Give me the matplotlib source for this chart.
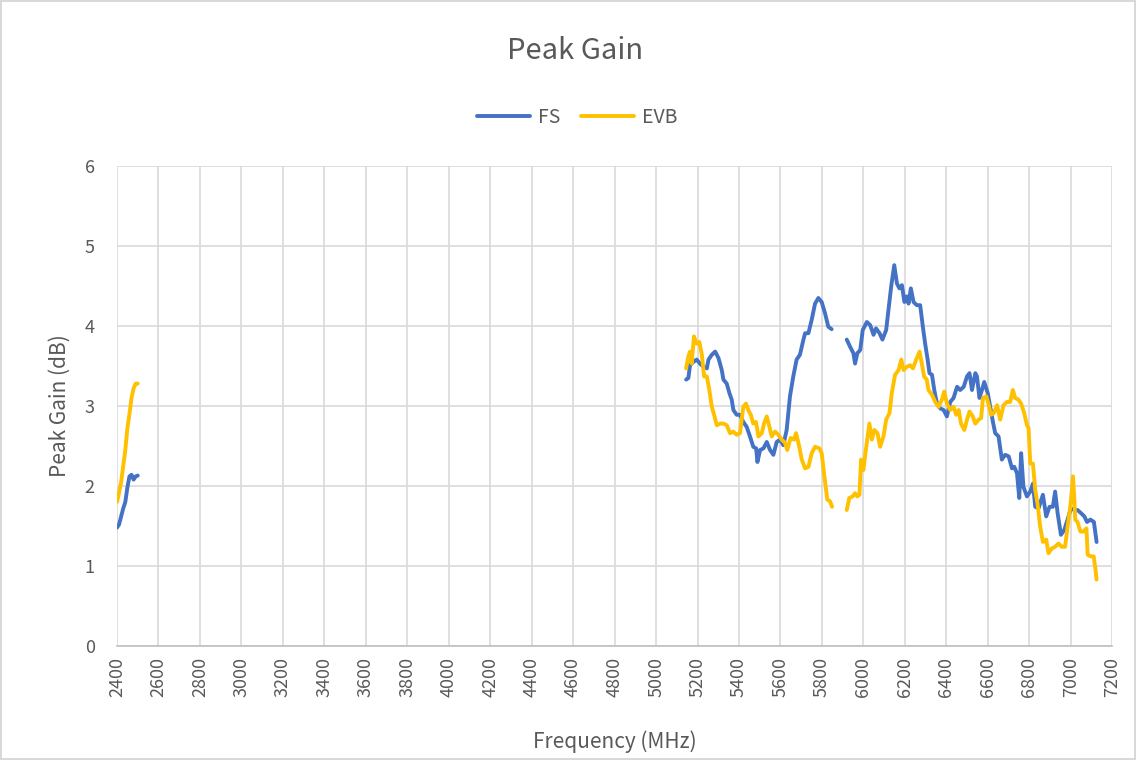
import numpy as np
import matplotlib.pyplot as plt

plt.rcParams['font.family'] = ['Noto Sans CJK SC', 'DejaVu Sans']

nan = np.nan

# FS series (MHz, dB); NaN marks gaps in the sweep
fs_freq = [2400, 2410, 2420, 2430, 2440, 2450, 2460, 2470, 2480, 2490, 2500, 2510,
           5145, 5156, 5164, 5180, 5196, 5212, 5228, 5245, 5253, 5269, 5285, 5301,
           5317, 5325, 5341, 5354, 5365, 5373, 5389, 5405, 5421, 5437, 5453, 5469,
           5483, 5489, 5502, 5518, 5534, 5550, 5566, 5582, 5598, 5614, 5630, 5638,
           5646, 5662, 5678, 5694, 5711, 5719, 5735, 5751, 5767, 5783, 5799, 5815,
           5831, 5847, 5880,
           5920, 5936, 5952, 5960, 5971, 5985, 5997, 6017, 6033, 6049, 6061, 6078,
           6092, 6110, 6121, 6134, 6149, 6162, 6174, 6186, 6198, 6210, 6218, 6229,
           6242, 6258, 6274, 6287, 6298, 6310, 6319, 6331, 6342, 6355, 6371, 6387,
           6403, 6419, 6435, 6452, 6467, 6484, 6500, 6512, 6524, 6540, 6548, 6560,
           6572, 6583, 6600, 6612, 6625, 6636, 6652, 6668, 6684, 6701, 6717, 6728,
           6741, 6752, 6761, 6772, 6789, 6805, 6818, 6829, 6845, 6866, 6882, 6898,
           6914, 6925, 6937, 6953, 6969, 6985, 7001, 7017, 7033, 7050, 7066, 7079,
           7095, 7112, 7125]
fs_gain = [1.48, 1.52, 1.62, 1.72, 1.80, 1.98, 2.12, 2.14, 2.08, 2.12, 2.13, nan,
           3.33, 3.35, 3.51, 3.55, 3.58, 3.53, 3.49, 3.47, 3.58, 3.64, 3.68, 3.60,
           3.45, 3.33, 3.28, 3.16, 3.08, 2.95, 2.89, 2.89, 2.80, 2.74, 2.62, 2.49,
           2.47, 2.30, 2.45, 2.47, 2.55, 2.45, 2.39, 2.55, 2.58, 2.51, 2.70, 2.91,
           3.12, 3.37, 3.58, 3.64, 3.83, 3.91, 3.91, 4.08, 4.28, 4.35, 4.30, 4.16,
           3.99, 3.96, nan,
           3.83, 3.74, 3.66, 3.53, 3.66, 3.70, 3.95, 4.05, 4.01, 3.89, 3.97, 3.91,
           3.83, 3.95, 4.20, 4.49, 4.76, 4.53, 4.47, 4.51, 4.30, 4.37, 4.28, 4.47,
           4.30, 4.26, 4.26, 3.99, 3.78, 3.58, 3.41, 3.39, 3.20, 3.03, 2.97, 2.95,
           2.87, 3.05, 3.10, 3.24, 3.20, 3.24, 3.37, 3.41, 3.20, 3.41, 3.37, 3.10,
           3.20, 3.30, 3.16, 2.99, 2.80, 2.66, 2.62, 2.33, 2.39, 2.37, 2.22, 2.24,
           2.16, 1.85, 2.41, 1.99, 1.87, 1.93, 2.03, 1.74, 1.72, 1.89, 1.62, 1.74,
           1.74, 1.93, 1.66, 1.39, 1.45, 1.58, 1.72, 1.70, 1.70, 1.66, 1.62, 1.55,
           1.58, 1.55, 1.30]

# EVB series
evb_freq = [2400, 2410, 2420, 2430, 2440, 2450, 2460, 2470, 2480, 2490, 2500, 2510,
            5145, 5156, 5164, 5172, 5183, 5196, 5209, 5221, 5232, 5245, 5257, 5269,
            5280, 5293, 5309, 5325, 5341, 5357, 5373, 5389, 5405, 5421, 5434, 5445,
            5457, 5469, 5482, 5494, 5510, 5521, 5534, 5547, 5558, 5574, 5590, 5606,
            5622, 5633, 5649, 5666, 5675, 5686, 5703, 5719, 5735, 5751, 5767, 5788,
            5799, 5810, 5820, 5826, 5839, 5849, 5880,
            5920, 5932, 5949, 5960, 5971, 5981, 5989, 6000, 6012, 6029, 6041, 6053,
            6068, 6081, 6097, 6110, 6126, 6137, 6153, 6170, 6183, 6194, 6210, 6226,
            6239, 6255, 6271, 6282, 6293, 6306, 6314, 6331, 6347, 6363, 6379, 6390,
            6403, 6419, 6435, 6448, 6460, 6471, 6487, 6500, 6512, 6528, 6540, 6556,
            6568, 6577, 6593, 6605, 6616, 6629, 6645, 6660, 6676, 6692, 6708, 6721,
            6732, 6748, 6761, 6776, 6789, 6797, 6805, 6818, 6829, 6840, 6853, 6866,
            6882, 6893, 6909, 6925, 6941, 6957, 6973, 6985, 6998, 7006, 7011, 7017,
            7022, 7033, 7047, 7063, 7076, 7082, 7098, 7111, 7120, 7125]
evb_gain = [1.80, 1.92, 2.05, 2.25, 2.45, 2.72, 2.90, 3.10, 3.22, 3.28, 3.28, nan,
            3.47, 3.62, 3.68, 3.53, 3.87, 3.78, 3.80, 3.64, 3.37, 3.37, 3.20, 2.99,
            2.89, 2.76, 2.78, 2.78, 2.76, 2.66, 2.68, 2.64, 2.66, 2.99, 3.03, 2.95,
            2.89, 2.78, 2.80, 2.62, 2.66, 2.78, 2.87, 2.74, 2.62, 2.68, 2.64, 2.58,
            2.54, 2.45, 2.60, 2.58, 2.66, 2.55, 2.33, 2.22, 2.24, 2.41, 2.49, 2.47,
            2.41, 2.16, 1.95, 1.83, 1.81, 1.74, nan,
            1.70, 1.85, 1.87, 1.91, 1.87, 1.89, 2.33, 2.20, 2.45, 2.78, 2.58, 2.70,
            2.66, 2.49, 2.62, 2.83, 2.91, 3.16, 3.39, 3.45, 3.58, 3.45, 3.49, 3.51,
            3.47, 3.58, 3.68, 3.53, 3.37, 3.33, 3.20, 3.14, 3.05, 2.99, 3.08, 3.18,
            3.03, 2.95, 2.99, 2.89, 2.95, 2.78, 2.70, 2.83, 2.93, 2.87, 2.78, 2.83,
            2.85, 3.10, 3.12, 3.01, 2.89, 2.91, 3.01, 2.83, 3.01, 3.05, 3.05, 3.20,
            3.10, 3.08, 3.03, 2.91, 2.76, 2.72, 2.28, 2.28, 1.95, 1.78, 1.49, 1.30,
            1.33, 1.16, 1.22, 1.24, 1.28, 1.24, 1.24, 1.49, 1.74, 1.95, 2.12, 1.87,
            1.58, 1.55, 1.43, 1.43, 1.47, 1.14, 1.12, 1.12, 0.95, 0.83]

x_ticks = list(range(2400, 7201, 200))
y_ticks = [0, 1, 2, 3, 4, 5, 6]

grey = '#595959'

fig = plt.figure(figsize=(11.36, 7.6), dpi=100)
fig.patch.set_edgecolor('#d9d9d9')
fig.patch.set_linewidth(1.5)
ax = fig.add_axes([0.103, 0.15, 0.876, 0.6316])

ax.plot(fs_freq, fs_gain, color='#4472C4', lw=2.8, label='FS', solid_capstyle='round')
ax.plot(evb_freq, evb_gain, color='#FFC000', lw=2.8, label='EVB', solid_capstyle='round')

ax.set_xlim(2400, 7200)
ax.set_ylim(0, 6)
ax.set_xticks(x_ticks)
ax.set_yticks(y_ticks)
ax.set_xticklabels([str(t) for t in x_ticks], rotation=90)
ax.grid(True, color='#d9d9d9', lw=1.2)
ax.set_axisbelow(True)
for s in ['top', 'right', 'left']:
    ax.spines[s].set_visible(False)
ax.spines['bottom'].set_color('#bfbfbf')
ax.spines['bottom'].set_linewidth(1.2)
ax.tick_params(axis='both', length=0, labelsize=13, labelcolor=grey)
ax.tick_params(axis='x', pad=8)
ax.tick_params(axis='y', pad=16)

ax.set_xlabel('Frequency (MHz)', fontsize=15, color=grey, labelpad=24)
ax.set_ylabel('Peak Gain (dB)', fontsize=15, color=grey, labelpad=10)
fig.text(0.506, 0.933, 'Peak Gain', ha='center', va='center', fontsize=21, color=grey)

fig.legend(loc='center', bbox_to_anchor=(0.508, 0.846), ncol=2, frameon=False,
           fontsize=14, labelcolor=grey, handlelength=2.7, handletextpad=0.4,
           columnspacing=1.1)

fig.savefig('out.png', dpi=100)
